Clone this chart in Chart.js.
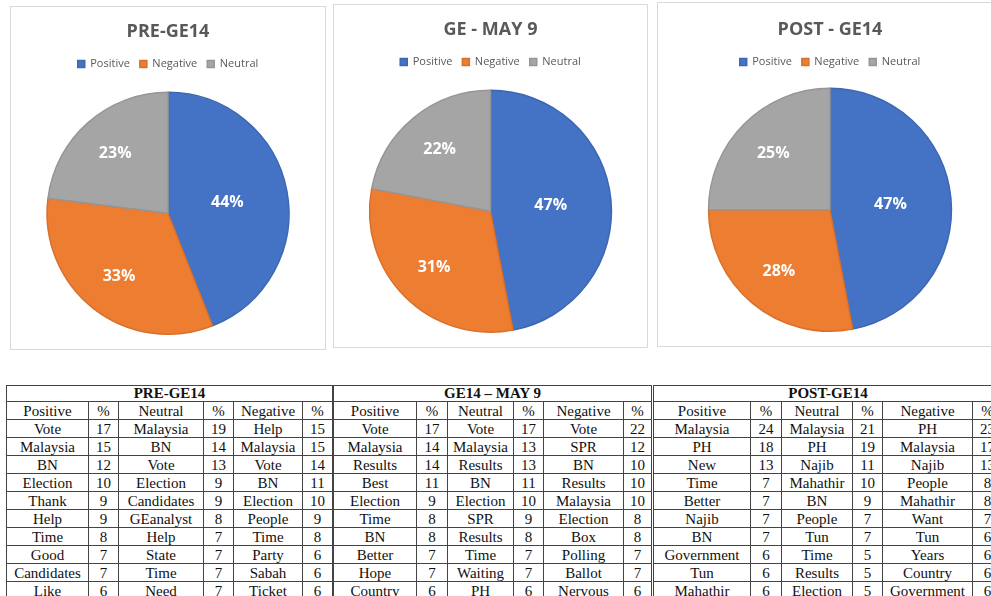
<!DOCTYPE html>
<html>
<head>
<meta charset="utf-8">
<title>GE14 sentiment</title>
<script src="https://cdn.jsdelivr.net/npm/chart.js@4.4.1/dist/chart.umd.min.js"></script>
<style>
  html, body { margin: 0; padding: 0; background: #fff; }
  #page { position: relative; width: 991px; height: 596px; overflow: hidden; }
  .panel { position: absolute; border: 1px solid #d9d9d9; box-sizing: border-box; background: #fff; }
  .panel div { position: relative; width: 100%; height: 100%; }
  table.words {
    position: absolute; top: 385px; border-collapse: collapse; table-layout: fixed;
    font-family: "Liberation Serif", "Times New Roman", serif; font-size: 15px; color: #111;
  }
  table.words td {
    border: 1px solid #444; padding: 0; height: 17px; line-height: 16px;
    text-align: center; white-space: nowrap; overflow: hidden;
  }
  table.words tr.head td { font-weight: bold; height: 15px; line-height: 15px; }
</style>
</head>
<body>
<div id="page">
  <div class="panel" style="left:10px;top:6px;width:316px;height:344px"><div><canvas id="pie1"></canvas></div></div>
  <div class="panel" style="left:333px;top:4px;width:315px;height:344px"><div><canvas id="pie2"></canvas></div></div>
  <div class="panel" style="left:657px;top:2px;width:346px;height:345px"><div><canvas id="pie3"></canvas></div></div>

  <table class="words" id="table1" style="left:6px"></table>
  <table class="words" id="table2" style="left:333px"></table>
  <table class="words" id="table3" style="left:653px"></table>
</div>

<script>
// Pie data (share of tweets per sentiment)
const sentimentLabels = ['Positive', 'Negative', 'Neutral'];
const pieTitles = ['PRE-GE14', 'GE - MAY 9', 'POST - GE14'];
const preGE14Share = [44, 33, 23];
const may9Share = [47, 31, 22];
const postGE14Share = [47, 28, 25];

// Top words per sentiment, [word, %]
const tableTitles = ['PRE-GE14', 'GE14 \u2013 MAY 9', 'POST-GE14'];

const prePositive = [['Vote', 17], ['Malaysia', 15], ['BN', 12], ['Election', 10], ['Thank', 9], ['Help', 9], ['Time', 8], ['Good', 7], ['Candidates', 7], ['Like', 6]];
const preNeutral = [['Malaysia', 19], ['BN', 14], ['Vote', 13], ['Election', 9], ['Candidates', 9], ['GEanalyst', 8], ['Help', 7], ['State', 7], ['Time', 7], ['Need', 7]];
const preNegative = [['Help', 15], ['Malaysia', 15], ['Vote', 14], ['BN', 11], ['Election', 10], ['People', 9], ['Time', 8], ['Party', 6], ['Sabah', 6], ['Ticket', 6]];

const may9Positive = [['Vote', 17], ['Malaysia', 14], ['Results', 14], ['Best', 11], ['Election', 9], ['Time', 8], ['BN', 8], ['Better', 7], ['Hope', 7], ['Country', 6]];
const may9Neutral = [['Vote', 17], ['Malaysia', 13], ['Results', 13], ['BN', 11], ['Election', 10], ['SPR', 9], ['Results', 8], ['Time', 7], ['Waiting', 7], ['PH', 6]];
const may9Negative = [['Vote', 22], ['SPR', 12], ['BN', 10], ['Results', 10], ['Malaysia', 10], ['Election', 8], ['Box', 8], ['Polling', 7], ['Ballot', 7], ['Nervous', 6]];

const postPositive = [['Malaysia', 24], ['PH', 18], ['New', 13], ['Time', 7], ['Better', 7], ['Najib', 7], ['BN', 7], ['Government', 6], ['Tun', 6], ['Mahathir', 6]];
const postNeutral = [['Malaysia', 21], ['PH', 19], ['Najib', 11], ['Mahathir', 10], ['BN', 9], ['People', 7], ['Tun', 7], ['Time', 5], ['Results', 5], ['Election', 5]];
const postNegative = [['PH', 23], ['Malaysia', 17], ['Najib', 13], ['People', 8], ['Mahathir', 8], ['Want', 7], ['Tun', 6], ['Years', 6], ['Country', 6], ['Government', 6]];

const sliceColors = ['#4472C4', '#ED7D31', '#A5A5A5'];
const sliceBorders = ['#3D67B3', '#D9702A', '#969696'];

// percentage labels inside the slices
const pieLabels = {
  id: 'pieLabels',
  afterDatasetsDraw(chart) {
    const ctx = chart.ctx;
    const data = chart.data.datasets[0].data;
    const total = data.reduce((a, b) => a + b, 0);
    chart.getDatasetMeta(0).data.forEach((arc, i) => {
      const share = data[i] / total;
      const mid = (arc.startAngle + arc.endAngle) / 2;
      const r = arc.outerRadius * (share > 0.4 ? 0.5 : 0.66);
      ctx.save();
      ctx.fillStyle = '#fff';
      ctx.font = 'bold 16px "Open Sans", sans-serif';
      ctx.textAlign = 'center';
      ctx.textBaseline = 'middle';
      ctx.fillText(Math.round(share * 100) + '%', arc.x + Math.cos(mid) * r, arc.y + Math.sin(mid) * r);
      ctx.restore();
    });
  }
};

// leave a gap under the legend, like the Excel charts
function legendGap(extra) {
  return {
    id: 'legendGap',
    beforeLayout(chart) {
      const legend = chart.legend;
      if (!legend || legend._gapPatched) return;
      const fit = legend.fit;
      legend.fit = function() {
        fit.call(this);
        this.height += extra;
      };
      legend._gapPatched = true;
    }
  };
}

function makePie(id, title, values, titleTop, gap) {
  const ctx = document.getElementById(id).getContext('2d');
  return new Chart(ctx, {
    type: 'pie',
    data: {
      labels: sentimentLabels,
      datasets: [{
        data: values,
        backgroundColor: sliceColors,
        borderColor: sliceBorders,
        borderWidth: 1.5
      }]
    },
    options: {
      responsive: true,
      maintainAspectRatio: false,
      animation: false,
      layout: { padding: { top: 0, bottom: 14, left: 0, right: 0 } },
      plugins: {
        title: {
          display: true,
          text: title,
          color: '#595959',
          font: { family: '"Open Sans", sans-serif', size: 18, weight: 'bold' },
          padding: { top: titleTop, bottom: 6 }
        },
        legend: {
          position: 'top',
          labels: {
            color: '#595959',
            boxWidth: 7,
            boxHeight: 7,
            padding: 10,
            font: { family: '"Open Sans", sans-serif', size: 11 }
          }
        },
        tooltip: { enabled: false }
      }
    },
    plugins: [pieLabels, legendGap(gap)]
  });
}

makePie('pie1', pieTitles[0], preGE14Share, 14, 12);
makePie('pie2', pieTitles[1], may9Share, 14, 12);
makePie('pie3', pieTitles[2], postGE14Share, 16, 10);

// word tables
function buildTable(id, title, widths, positive, neutral, negative) {
  const table = document.getElementById(id);
  const colgroup = document.createElement('colgroup');
  widths.forEach(w => {
    const col = document.createElement('col');
    col.style.width = w + 'px';
    colgroup.appendChild(col);
  });
  table.appendChild(colgroup);

  const head = document.createElement('tr');
  head.className = 'head';
  head.innerHTML = `<td colspan="6">${title}</td>`;
  table.appendChild(head);

  const sub = document.createElement('tr');
  sub.innerHTML = '<td>Positive</td><td>%</td><td>Neutral</td><td>%</td><td>Negative</td><td>%</td>';
  table.appendChild(sub);

  positive.forEach((row, i) => {
    const tr = document.createElement('tr');
    tr.innerHTML = `
      <td>${row[0]}</td><td>${row[1]}</td>
      <td>${neutral[i][0]}</td><td>${neutral[i][1]}</td>
      <td>${negative[i][0]}</td><td>${negative[i][1]}</td>`;
    table.appendChild(tr);
  });
  table.style.width = widths.reduce((a, b) => a + b, 0) + 'px';
}

buildTable('table1', tableTitles[0], [82, 30, 85, 30, 69, 30], prePositive, preNeutral, preNegative);
buildTable('table2', tableTitles[1], [83, 31, 66, 30, 80, 28], may9Positive, may9Neutral, may9Negative);
buildTable('table3', tableTitles[2], [97, 31, 71, 30, 90, 30], postPositive, postNeutral, postNegative);
</script>
</body>
</html>
